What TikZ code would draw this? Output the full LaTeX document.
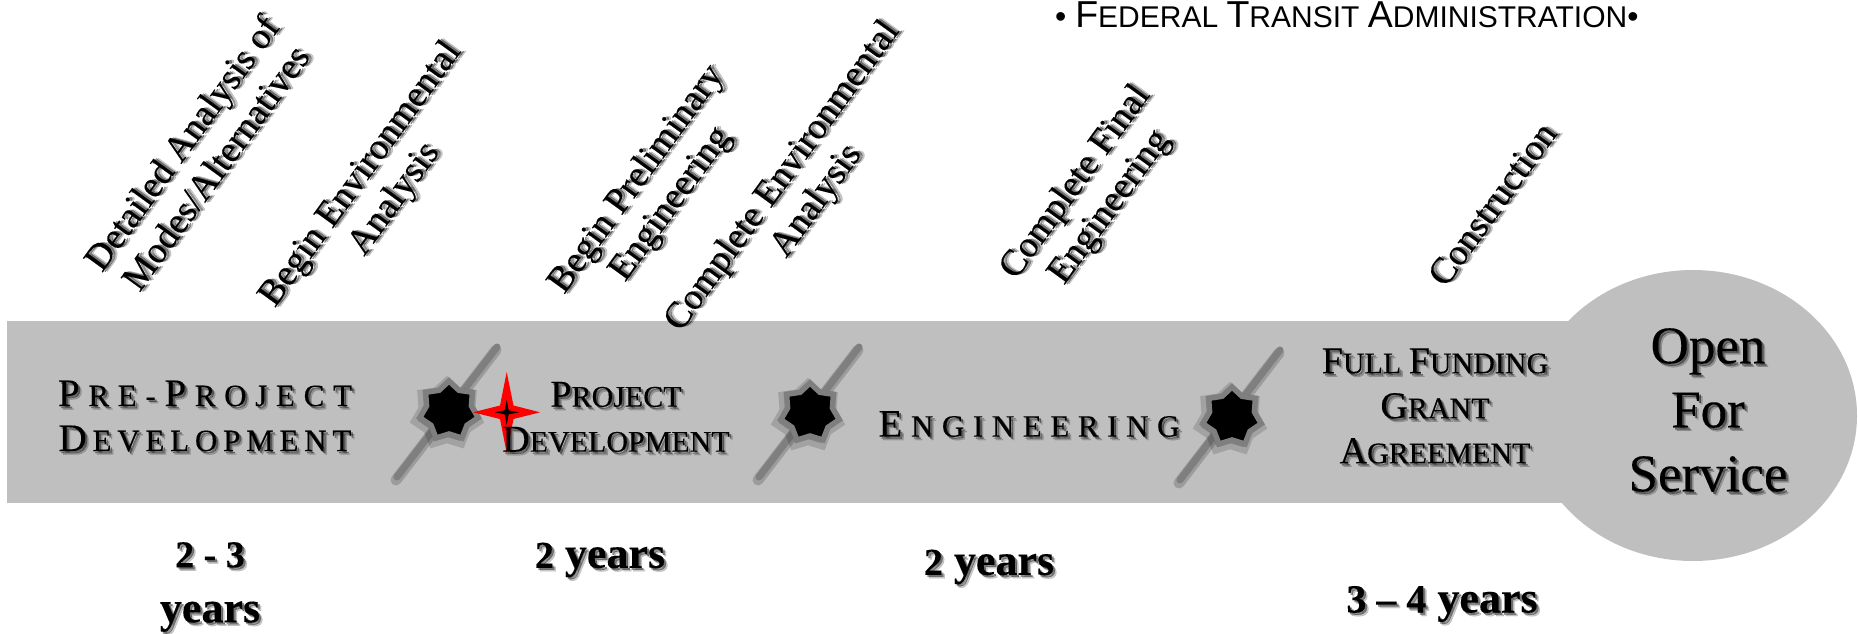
\documentclass[tikz,border=0pt]{standalone}
\usepackage{fontspec}
\setmainfont{Liberation Serif}[FakeBold=0.2]
\newfontfamily\arialfont{Liberation Sans}
\definecolor{barfill}{RGB}{191,191,191}
\definecolor{slashcol}{RGB}{127,127,127}
\newcommand{\fs}[2]{\fontsize{#1}{#1}\selectfont #2}
% fake small caps: big initial, smaller rest
\newcommand{\scA}[2]{{\fs{38}{#1}}{\fs{30}{#2}}}
% letter-spaced small caps: gap, big initial, rest
\newdimen\lsgap
\def\lsloop#1{\ifx#1\relax\else #1\kern\lsgap\expandafter\lsloop\fi}
\newcommand{\scS}[3]{{\lsgap=#1pt\fs{39}{#2}\kern\lsgap\fs{31}{\lsloop#3\relax}\kern-\lsgap}}
% text with a soft drop shadow: fading copies below the real text
\newcommand{\shnode}[4]{%
  \foreach \ox/\oo in {3.5/.22,2/.42}{%
    \node[txt,#3,text=black,text opacity=\oo,xshift=\ox pt,yshift=-\ox pt] at (#1) {#4};}%
  \node[txt,#3] (#2) at (#1) {#4};}
\tikzset{
  txt/.style={inner sep=0pt,align=center,anchor=center},
  barshape/.style={fill=barfill,draw=none},
  rotlabel/.style={rotate=54,font=\fontsize{37}{42}\selectfont},
  yrlabel/.style={font=\bfseries\fontsize{44}{55}\selectfont},
  caps/.style={font=\fontsize{30}{45}\selectfont},
  slash/.style={draw=slashcol,line width=7pt,line cap=round},
  sstar/.style={fill=black,draw=slashcol,line width=5.5pt,line join=miter},
}
\newcommand{\starpath}{(0,-30) \foreach \a in {1,...,13}{ -- ({(mod(\a,2)==0?30:23)*sin(\a*180/7)},{-(mod(\a,2)==0?30:23)*cos(\a*180/7)}) } -- cycle}
\newcommand{\burst}[4]{%
  \draw[draw=black,draw opacity=.18,line width=11pt,line cap=round,shift={(#1)},shift={(-1,3)}] (50,-65) -- (-50,65);
  \draw[slash,shift={(#1)}] (50,-65) -- (-50,65);
  \begin{scope}[shift={(#2)}]
    \fill[black,opacity=.2,shift={(-2,3)}] \starpath;
    \draw[draw=black,draw opacity=.15,line width=12pt,shift={(-2,3)}] \starpath;
    \draw[sstar] \starpath;
  \end{scope}
  \node[inner sep=0pt] (#3) at (#2) {};
  \node[inner sep=0pt] (#4) at (#1) {};
}
\begin{document}
\begin{tikzpicture}[x=1pt,y=-1pt]
\useasboundingbox (0,0) rectangle (1858,634);
% bar and terminal
\fill[barshape] (7,321) -- (1590,321) -- (1590,503) -- (7,503) -- cycle;
\path[barshape] (1693,415.5) ellipse [x radius=164,y radius=145.5];
% title
\node[txt,anchor=base west,font=\arialfont] (title) at (1055,28)
  {{\fs{32}{•} }{\fs{37.5}{F}}{\fs{30}{EDERAL} }{\fs{37.5}{T}}{\fs{30}{RANSIT} }{\fs{37.5}{A}}{\fs{30}{DMINISTRATION}}{\fs{32}{•}}};
% milestones
\burst{447,412}{449,411}{s1}{l1}
\burst{809,412}{810,413}{s2}{l2}
\burst{1230,415}{1232,417}{s3}{l3}
% red star
\fill[red] (506.7,372) -- (513.5,405.5) -- (540,412.3) -- (513.5,419) -- (506.7,453) -- (500,419) -- (473,412.3) -- (500,405.5) -- cycle;
\fill[black] (506.7,400) -- (508.7,410.3) -- (519,412.3) -- (508.7,414.3) -- (506.7,425) -- (504.7,414.3) -- (495,412.3) -- (504.7,410.3) -- cycle;
% phase labels
\shnode{205,416}{pre}{font=\fontsize{31}{45}\selectfont}{\scS{8.7}{P}{RE-}\kern8.7pt\scS{8.7}{P}{ROJECT}\\\scS{5.8}{D}{EVELOPMENT}}
\shnode{616,417}{proj}{caps}{\scA{P}{ROJECT}\\\scA{D}{EVELOPMENT}}
\shnode{1029,424}{eng}{font=\fontsize{31}{45}\selectfont}{\scS{8.6}{E}{NGINEERING}}
\shnode{1435,406}{fund}{caps}{\scA{F}{ULL} \scA{F}{UNDING}\\\scA{G}{RANT}\\\scA{A}{GREEMENT}}
\shnode{1708,410}{svc}{font=\fontsize{53}{64}\selectfont}{Open\\For\\Service}
% durations
\shnode{210,587}{y1}{yrlabel}{{\fs{38}{2 - 3}}\\years}
\shnode{600,560}{y2}{yrlabel}{{\fs{38}{2}} years}
\shnode{989,567}{y3}{yrlabel}{{\fs{38}{2}} years}
\shnode{1442,604}{y4}{yrlabel}{{\fs{40}{3 -- 4}} years}
% rotated activity labels
\shnode{198,155}{a1}{rotlabel}{Detailed Analysis of\\Modes/Alternatives}
\shnode{378,187}{a2}{rotlabel}{Begin Environmental\\Analysis}
\shnode{654,192}{a3}{rotlabel}{Begin Preliminary\\Engineering}
\shnode{800,189}{a4}{rotlabel}{Complete Environmental\\Analysis}
\shnode{1093,195}{a5}{rotlabel}{Complete Final\\Engineering}
\shnode{1492,204}{a6}{rotlabel}{Construction}
\end{tikzpicture}
\end{document}
